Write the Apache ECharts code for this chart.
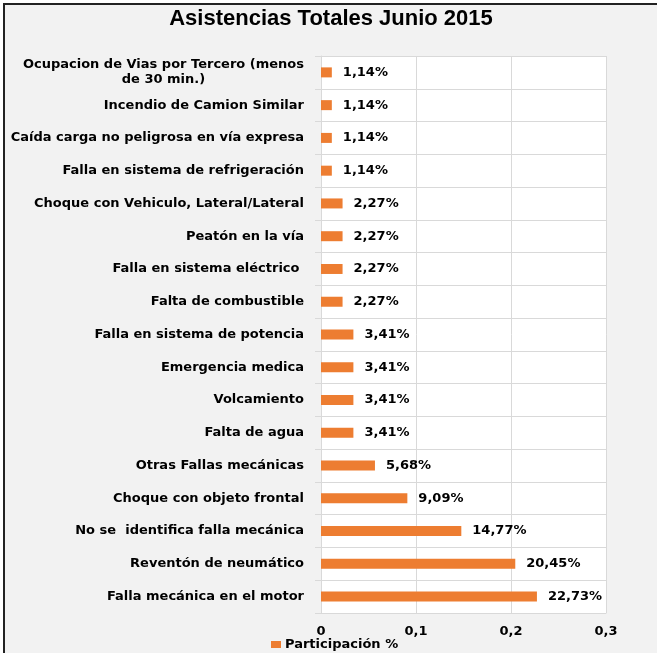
<!DOCTYPE html>
<html>
<head>
<meta charset="utf-8">
<script src="https://cdn.jsdelivr.net/npm/echarts@6/dist/echarts.min.js"></script>
<style>
  html, body { margin: 0; padding: 0; background: #ffffff; overflow: hidden; }
  #chart {
    position: absolute;
    left: 3px;
    top: 3px;
    width: 654px;
    height: 650px;
    box-sizing: border-box;
    border-left: 2px solid #222;
    border-top: 2px solid #222;
    background: #f2f2f2;
  }
</style>
</head>
<body>
<div id="chart"></div>
<script>
// categories from bottom to top
const categories = [
  'Falla mecánica en el motor',
  'Reventón de neumático',
  'No se  identifica falla mecánica',
  'Choque con objeto frontal',
  'Otras Fallas mecánicas',
  'Falta de agua',
  'Volcamiento',
  'Emergencia medica',
  'Falla en sistema de potencia',
  'Falta de combustible',
  'Falla en sistema eléctrico ',
  'Peatón en la vía',
  'Choque con Vehiculo, Lateral/Lateral',
  'Falla en sistema de refrigeración',
  'Caída carga no peligrosa en vía expresa',
  'Incendio de Camion Similar',
  'Ocupacion de Vias por Tercero (menos\nde 30 min.)'
]
const participacion = [
  0.2273, 0.2045, 0.1477, 0.0909, 0.0568, 0.0341, 0.0341, 0.0341, 0.0341,
  0.0227, 0.0227, 0.0227, 0.0227, 0.0114, 0.0114, 0.0114, 0.0114
]
const xTicks = [0, 0.1, 0.2, 0.3]

const FONT = 'DejaVu Sans'
const fmtComma = (v) => String(v).replace('.', ',')

const myChart = echarts.init(document.getElementById('chart'))
const option = {
  backgroundColor: '#f2f2f2',
  title: {
    text: 'Asistencias Totales Junio 2015',
    left: 'center',
    top: 3,
    padding: 0,
    textStyle: {
      fontFamily: 'Liberation Sans',
      fontWeight: 'bold',
      fontSize: 22,
      color: '#000'
    }
  },
  legend: {
    left: 266,
    top: 633,
    padding: 0,
    itemWidth: 10,
    itemHeight: 7,
    itemGap: 5,
    icon: 'rect',
    textStyle: {
      fontFamily: FONT,
      fontWeight: 'bold',
      fontSize: 13,
      color: '#000',
      padding: [0, 0, 0, -1]
    },
    data: ['Participación %']
  },
  grid: {
    left: 316,
    right: 51,
    top: 51,
    bottom: 40,
    show: true,
    backgroundColor: '#ffffff',
    borderWidth: 0
  },
  xAxis: {
    type: 'value',
    min: xTicks[0],
    max: xTicks[xTicks.length - 1],
    interval: 0.1,
    axisLine: { show: true, lineStyle: { color: '#d9d9d9', width: 1 } },
    axisTick: { show: false },
    splitLine: { show: true, lineStyle: { color: '#d9d9d9', width: 1 } },
    axisLabel: {
      margin: 12,
      fontFamily: FONT,
      fontWeight: 'bold',
      fontSize: 13,
      color: '#000',
      formatter: (v) => fmtComma(Math.round(v * 10) / 10)
    }
  },
  yAxis: {
    type: 'category',
    data: categories,
    axisLine: { show: true, lineStyle: { color: '#d9d9d9', width: 1 } },
    axisTick: { show: true, length: 6, lineStyle: { color: '#d9d9d9' } },
    splitLine: { show: true, lineStyle: { color: '#d9d9d9', width: 1 } },
    axisLabel: {
      margin: 17,
      formatter: (v) => '{c|' + v.split('\n').join('}\n{c|') + '}',
      rich: {
        c: {
          fontFamily: FONT,
          fontWeight: 'bold',
          fontSize: 13,
          color: '#000',
          align: 'center',
          lineHeight: 15
        }
      }
    }
  },
  series: [
    {
      name: 'Participación %',
      type: 'bar',
      barWidth: 10,
      data: participacion,
      itemStyle: { color: '#ED7D31' },
      label: {
        show: true,
        position: 'right',
        distance: 11,
        fontFamily: FONT,
        fontWeight: 'bold',
        fontSize: 13,
        color: '#000',
        formatter: (p) => (p.value * 100).toFixed(2).replace('.', ',') + '%'
      }
    }
  ]
}
myChart.setOption(option)
</script>
</body>
</html>
